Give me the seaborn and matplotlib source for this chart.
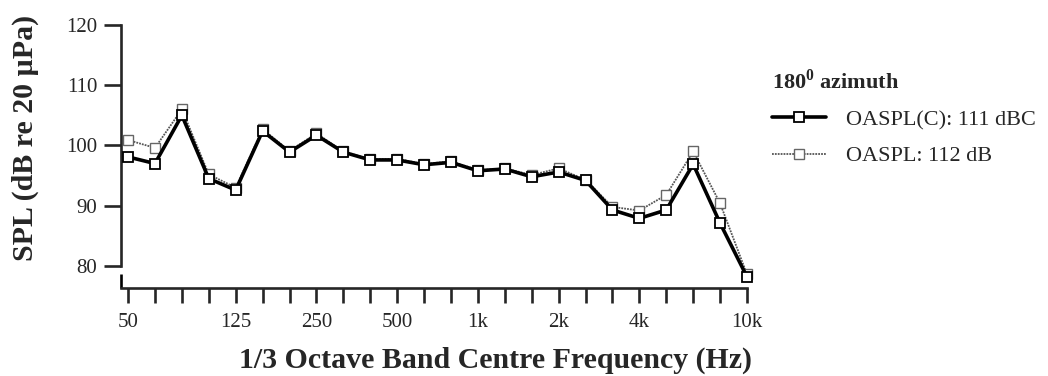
import matplotlib
matplotlib.use('Agg')
import matplotlib.pyplot as plt
import numpy as np
import pandas as pd
import seaborn as sns

# bandas de tercio de octava y niveles
bandas = ['50', '63', '80', '100', '125', '160', '200', '250', '315', '400', '500', '630',
          '800', '1k', '1.25k', '1.6k', '2k', '2.5k', '3.15k', '4k', '5k', '6.3k', '8k', '10k']
etiquetas = ['50', '', '', '', '125', '', '', '250', '', '', '500', '', '', '1k', '', '',
             '2k', '', '', '4k', '', '', '', '10k']
spl_c = [98.1, 97.0, 105.0, 94.5, 92.6, 102.4, 98.9, 101.7, 98.9, 97.6, 97.6, 96.8,
         97.2, 95.8, 96.1, 94.8, 95.6, 94.2, 89.3, 87.9, 89.3, 96.9, 87.1, 78.2]
spl_lin = [100.9, 99.6, 106.0, 95.2, 93.0, 102.7, 99.1, 102.0, 99.0, 97.7, 97.8, 96.9,
           97.4, 95.9, 96.2, 95.1, 96.2, 94.3, 89.8, 89.2, 91.8, 99.0, 90.4, 78.6]
nombre_c = 'OASPL(C): 111 dBC'
nombre_lin = 'OASPL: 112 dB'

sns.set_style('ticks')
plt.rcParams['font.family'] = ['Liberation Serif', 'DejaVu Serif']
plt.rcParams['mathtext.fontset'] = 'custom'
plt.rcParams['mathtext.rm'] = 'Liberation Serif'
plt.rcParams['mathtext.bf'] = 'Liberation Serif:bold'

pos = np.arange(len(bandas))
df_c = pd.DataFrame({'pos': pos, 'spl': spl_c})
df_lin = pd.DataFrame({'pos': pos, 'spl': spl_lin})

fig = plt.figure(figsize=(10.48, 3.76), dpi=100)
ax = fig.add_axes([0.1155, 0.2926, 0.605, 0.641])

sns.lineplot(data=df_lin, x='pos', y='spl', ax=ax, color='#555555', lw=1.3,
             linestyle=(0, (1, 0.6)), marker='s', markersize=7, mfc='white',
             mec='#666666', mew=1.0, label=nombre_lin, zorder=2)
sns.lineplot(data=df_c, x='pos', y='spl', ax=ax, color='black', lw=2.6,
             marker='s', markersize=7, mfc='white', mec='black', mew=1.3,
             label=nombre_c, zorder=3)
# el punto de 10k cae por debajo de 80 dB, no recortar
for ln in ax.lines:
    ln.set_clip_on(False)

ax.set_xlim(-0.26, 23.3)
ax.set_ylim(80, 120)
ax.set_yticks([80, 90, 100, 110, 120])
ax.set_xticks(pos)
ax.set_xticklabels(etiquetas)

for s in ['top', 'right']:
    ax.spines[s].set_visible(False)
ax.spines['left'].set_bounds(80, 120)
ax.spines['bottom'].set_position(('outward', 16))
ax.spines['bottom'].set_bounds(-0.26, 23)
for s in ['left', 'bottom']:
    ax.spines[s].set_linewidth(1.9)

ax.tick_params(axis='y', direction='out', length=12, width=1.9, labelsize=15, pad=5)
ax.tick_params(axis='x', direction='out', length=11, width=1.9, labelsize=15, pad=7)

# pequeno tope vertical al inicio del eje x
ax.plot([0, 0], [-0.033, -0.092], transform=ax.transAxes, color='black', lw=1.9,
        clip_on=False, solid_capstyle='butt')

ax.set_xlabel('1/3 Octave Band Centre Frequency (Hz)', fontsize=21.5, fontweight='bold')
ax.set_ylabel('SPL (dB re 20 µPa)', fontsize=21.5, fontweight='bold')
ax.xaxis.set_label_coords(0.59, -0.335)
ax.yaxis.set_label_coords(-0.13, 0.53)

h, l = ax.get_legend_handles_labels()
leg = ax.legend(h[::-1], l[::-1], title=r'180$^{\mathbf{0}}$ azimuth', loc='upper left',
                bbox_to_anchor=(0.737, 0.815), bbox_transform=fig.transFigure,
                frameon=False, fontsize=16, numpoints=1, handlelength=2.4,
                handletextpad=0.9, labelspacing=0.7, borderpad=0, borderaxespad=0,
                alignment='left', title_fontproperties={'weight': 'bold', 'size': 16})

fig.savefig('out.png', dpi=100)
